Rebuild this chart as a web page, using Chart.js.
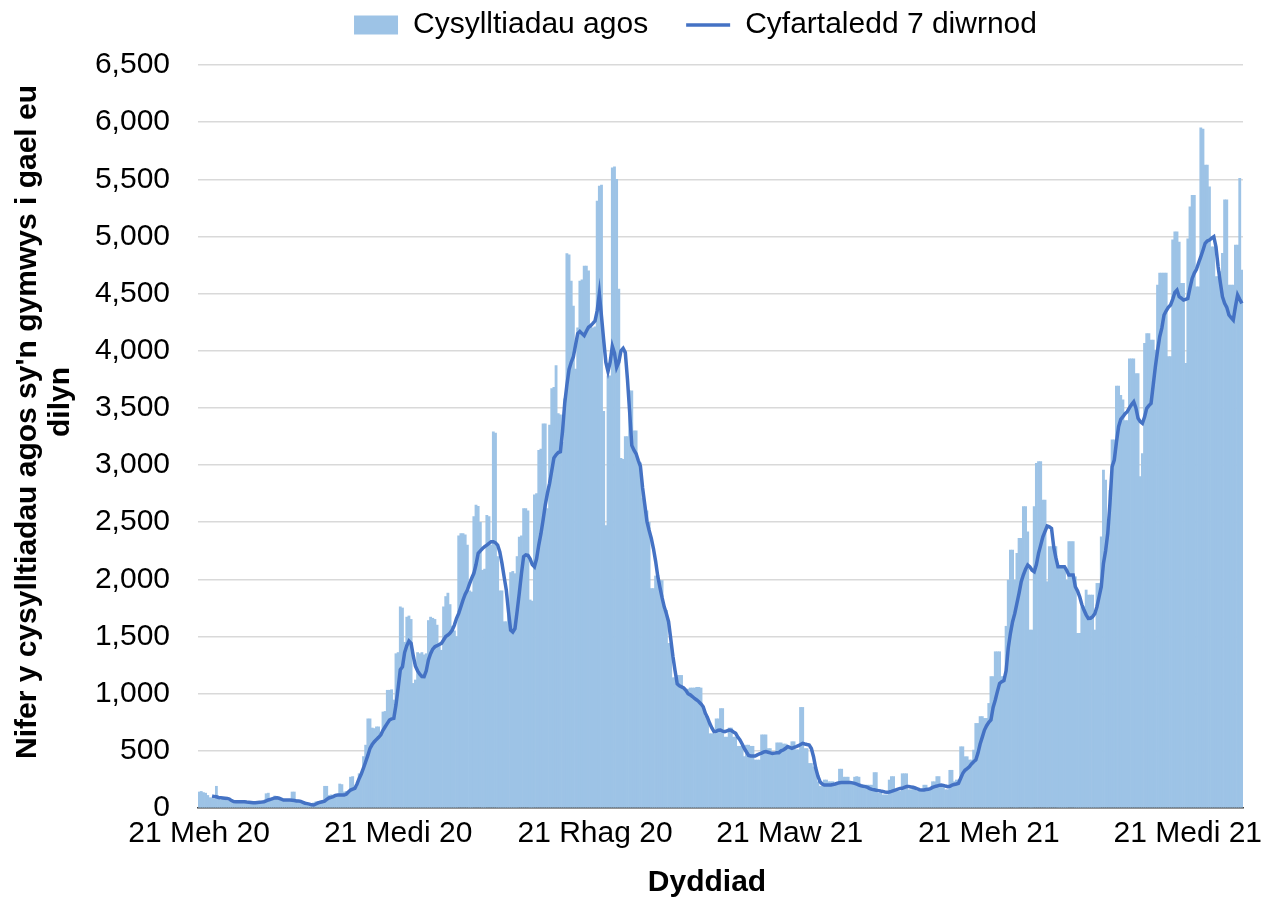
<!DOCTYPE html>
<html lang="cy">
<head>
<meta charset="utf-8">
<title>Cysylltiadau agos</title>
<script src="https://cdn.jsdelivr.net/npm/chart.js"></script>
<style>
    html, body { margin: 0; padding: 0; background: #fff; }
    #wrap { position: relative; width: 1272px; height: 903px; }
</style>
</head>
<body>
<div id="wrap"><canvas id="cysylltiadauChart"></canvas></div>
<script>
// Diwrnod cyntaf y gyfres: 21 Mehefin 2020
var startDate = Date.UTC(2020, 5, 21);

// Labeli'r echel x a'r diwrnodau lle maen nhw'n sefyll
var tickLabels = ['21 Meh 20', '21 Medi 20', '21 Rhag 20', '21 Maw 21', '21 Meh 21', '21 Medi 21'];
var tickDays = [0, 92, 183, 273, 365, 457];

// Cysylltiadau agos bob dydd (darllen oddi ar y llun)
var contacts = [
    140, 145, 135, 130, 110, 90, 85, 80, 190, 95,
    70, 75, 80, 65, 60, 55, 50, 45, 60, 55,
    45, 50, 55, 50, 40, 45, 50, 55, 45, 40,
    50, 125, 130, 60, 75, 105, 100, 80, 70, 60,
    65, 60, 75, 140, 140, 70, 65, 55, 50, 40,
    35, 40, 30, 45, 55, 55, 50, 60, 190, 190,
    110, 115, 110, 100, 105, 210, 205, 140, 145, 130,
    270, 275, 180, 185, 300, 300, 450, 550, 780, 780,
    700, 695, 710, 710, 640, 840, 845, 1030, 1030, 1035,
    945, 1350, 1360, 1760, 1750, 1450, 1670, 1680, 1650, 1090,
    1120, 1360, 1350, 1360, 1340, 1350, 1640, 1670, 1660, 1650,
    1600, 1430, 1380, 1760, 1850, 1880, 1780, 1590, 1550, 1500,
    2380, 2400, 2400, 2390, 2300, 1900, 1890, 2550, 2650, 2640,
    2500, 2080, 2090, 2560, 2550, 2300, 3290, 3280, 2200, 1900,
    1900, 1630, 1630, 1700, 2060, 2070, 2050, 2200, 2370, 2380,
    2620, 2620, 2600, 1820, 1810, 2740, 2750, 3130, 3140, 3360,
    3360, 2620, 3350, 3670, 3680, 3870, 3450, 3440, 3200, 3580,
    4850, 4840, 4610, 4390, 3840, 4200, 4610, 4620, 4740, 4740,
    4700, 4210, 4200, 4210, 5310, 5440, 5450, 3470, 2470, 3780,
    3780, 5600, 5610, 5500, 4540, 3060, 3050, 3250, 3250, 3650,
    3650, 3300, 3300, 3020, 3020, 2710, 2620, 2600, 2500, 1920,
    1920, 2030, 2030, 1990, 1990, 1730, 1730, 1440, 1440, 1140,
    1140, 1160, 1160, 1160, 1030, 1030, 1040, 1050, 1050, 1050,
    1056, 1056, 1050, 860, 800, 800, 650, 650, 650, 780,
    780, 870, 870, 620, 620, 700, 700, 620, 620, 540,
    540, 540, 450, 550, 550, 540, 540, 420, 420, 420,
    640, 640, 640, 520, 520, 480, 480, 570, 570, 570,
    560, 560, 540, 540, 580, 580, 510, 510, 880, 880,
    520, 520, 390, 390, 360, 360, 230, 190, 190, 245,
    245, 230, 230, 230, 200, 200, 340, 340, 270, 270,
    270, 230, 230, 270, 275, 270, 185, 185, 200, 200,
    200, 200, 310, 310, 130, 130, 115, 115, 115, 245,
    275, 275, 145, 145, 145, 300, 300, 300, 160, 160,
    170, 170, 145, 145, 145, 200, 200, 170, 170, 230,
    230, 275, 275, 200, 200, 160, 160, 330, 330, 230,
    245, 245, 536, 536, 449, 449, 420, 420, 507, 740,
    740, 800, 800, 784, 784, 915, 1150, 1150, 1367, 1367,
    1367, 1150, 1150, 1590, 1994, 2257, 2257, 1994, 2228, 2360,
    2360, 2636, 2636, 2417, 1557, 1557, 2636, 3015, 3030, 3030,
    2694, 2694, 1980, 2286, 2286, 2286, 2286, 2111, 2111, 2111,
    2111, 1994, 2330, 2330, 2330, 2023, 1528, 1528, 1761, 1761,
    1907, 1863, 1863, 1863, 1557, 1965, 1965, 2373, 2957, 2869,
    2370, 2780, 3220, 3220, 3690, 3690, 3610, 3570, 3390, 3390,
    3930, 3930, 3930, 3800, 3800, 2900, 3100, 4065, 4150, 4150,
    4094, 4094, 4007, 4575, 4680, 4680, 4680, 4680, 3950, 3950,
    4970, 5040, 5040, 4950, 4590, 4590, 3890, 4980, 5260, 5360,
    5360, 4560, 4560, 5950, 5940, 5625, 5625, 5435, 4910, 4910,
    4648, 4648, 4692, 4852, 5320, 5320, 4575, 4575, 4575, 4925,
    4925, 5508, 4706
];

// Cyfartaledd 7 diwrnod (dim gwerth am y 6 diwrnod cyntaf)
var average = [
    null, null, null, null, null, null, 105, 100, 98, 92,
    90, 88, 86, 84, 78, 65, 56, 55, 55, 55,
    55, 55, 52, 50, 48, 46, 46, 48, 50, 52,
    55, 62, 70, 76, 82, 88, 90, 85, 78, 70,
    70, 70, 70, 68, 66, 62, 61, 58, 50, 42,
    38, 34, 28, 26, 35, 45, 50, 55, 60, 75,
    88, 93, 100, 110, 113, 113, 113, 113, 120, 140,
    157, 165, 172, 210, 259, 300, 350, 405, 460, 522,
    555, 580, 600, 618, 640, 680, 711, 740, 770, 780,
    784, 900, 1050, 1210, 1236, 1360, 1420, 1460, 1440, 1330,
    1240, 1200, 1170, 1150, 1149, 1200, 1295, 1350, 1390, 1411,
    1420, 1430, 1440, 1470, 1500, 1513, 1530, 1557, 1600, 1660,
    1703, 1760, 1820, 1870, 1907, 1960, 2010, 2053, 2130, 2228,
    2250, 2270, 2286, 2300, 2315, 2330, 2330, 2320, 2300, 2240,
    2140, 2020, 1907, 1720, 1557, 1540, 1570, 1720, 1880, 2050,
    2199, 2214, 2210, 2180, 2130, 2110, 2180, 2300, 2400, 2520,
    2650, 2753, 2840, 2950, 3062, 3090, 3110, 3117, 3300, 3541,
    3700, 3837, 3900, 3948, 4050, 4150, 4169, 4150, 4132, 4170,
    4206, 4220, 4240, 4261, 4350, 4501, 4300, 4095, 3900, 3818,
    3900, 4040, 3980, 3855, 3900, 4000, 4021, 3984, 3750, 3468,
    3172, 3130, 3099, 3040, 2988, 2800, 2656, 2508, 2430, 2360,
    2270, 2160, 2028, 1930, 1840, 1760, 1700, 1630, 1480, 1327,
    1200, 1087, 1070, 1060, 1050, 1030, 1000, 990, 975, 958,
    945, 930, 910, 886, 828, 790, 741, 700, 668, 670,
    680, 682, 672, 668, 675, 682, 678, 665, 653, 620,
    595, 560, 522, 490, 460, 455, 455, 455, 465, 473,
    480, 490, 493, 488, 482, 478, 480, 484, 484, 500,
    507, 520, 537, 530, 522, 530, 537, 545, 555, 566,
    560, 555, 551, 520, 449, 350, 280, 230, 210, 201,
    201, 201, 201, 205, 210, 216, 220, 222, 222, 222,
    222, 222, 220, 215, 208, 201, 195, 190, 187, 180,
    170, 163, 160, 155, 152, 148, 145, 140, 137, 140,
    145, 152, 158, 165, 170, 172, 180, 187, 187, 184,
    181, 175, 168, 160, 157, 158, 162, 163, 170, 180,
    187, 192, 198, 201, 198, 192, 187, 190, 200, 205,
    210, 216, 260, 303, 330, 345, 361, 385, 405, 420,
    480, 560, 620, 682, 720, 750, 770, 880, 945, 1020,
    1090, 1105, 1115, 1200, 1400, 1528, 1630, 1700, 1790, 1880,
    1980, 2040, 2090, 2126, 2110, 2080, 2067, 2130, 2228, 2300,
    2373, 2420, 2467, 2460, 2446, 2286, 2190, 2111, 2111, 2111,
    2111, 2080, 2038, 2038, 2038, 1936, 1900, 1849, 1780, 1732,
    1690, 1659, 1660, 1674, 1700, 1761, 1850, 1936, 2140, 2250,
    2403, 2665, 2986, 3044, 3200, 3336, 3400, 3423, 3450, 3467,
    3500, 3530, 3554, 3500, 3409, 3380, 3365, 3420, 3496, 3520,
    3540, 3700, 3861, 4000, 4123, 4200, 4313, 4350, 4380, 4400,
    4450, 4510, 4531, 4473, 4460, 4444, 4450, 4458, 4550, 4633,
    4680, 4712, 4770, 4823, 4880, 4940, 4960, 4969, 4985, 4998,
    4910, 4735, 4600, 4473, 4415, 4380, 4313, 4290, 4269, 4386,
    4488, 4450, 4415
];

var yTitle = ["Nifer y cysylltiadau agos sy'n gymwys i gael eu", 'dilyn'];
var xTitle = 'Dyddiad';

document.addEventListener("DOMContentLoaded", function () {
    var fontFamily = '"Liberation Sans", Arial, sans-serif';
    var textColor = '#000000';

    // un categori i bob dydd
    var days = [];
    for (var i = 0; i < contacts.length; i++) {
        days.push(new Date(startDate + i * 86400000).toISOString().slice(0, 10));
    }

    // uchder y chwedl (er mwyn i'r grid ddechrau ar yr un lle) a'i safle
    var legendBox = {
        id: 'legendBox',
        beforeInit: function (chart) {
            var fit = chart.legend.fit;
            chart.legend.fit = function () {
                fit.call(this);
                this.height = 65;
            };
        },
        afterLayout: function (chart) {
            chart.legend.left = 148;
            chart.legend.top = -28;
        }
    };

    // teitlau'r echelinau
    var axisTitles = {
        id: 'axisTitles',
        afterDraw: function (chart) {
            var c = chart.ctx;
            c.save();
            c.font = 'bold 30px ' + fontFamily;
            c.fillStyle = textColor;
            c.textAlign = 'center';
            c.textBaseline = 'middle';
            c.fillText(xTitle, 707, 883);
            c.save();
            c.translate(28, 422);
            c.rotate(-Math.PI / 2);
            c.fillText(yTitle[0], 0, 0);
            c.restore();
            c.translate(61, 402);
            c.rotate(-Math.PI / 2);
            c.fillText(yTitle[1], 0, 0);
            c.restore();
        }
    };

    var ctx = document.getElementById('cysylltiadauChart').getContext('2d');
    var myChart = new Chart(ctx, {
        type: 'bar',
        data: {
            labels: days,
            datasets: [{
                type: 'bar',
                label: 'Cysylltiadau agos',
                data: contacts,
                backgroundColor: '#9dc3e6',
                borderWidth: 0,
                barPercentage: 1,
                categoryPercentage: 1,
                pointStyle: 'rect',
                order: 1
            }, {
                type: 'line',
                label: 'Cyfartaledd 7 diwrnod',
                data: average,
                borderColor: '#4472c4',
                backgroundColor: '#4472c4',
                borderWidth: 3.5,
                pointRadius: 0,
                pointHoverRadius: 0,
                pointBorderWidth: 3.5,
                pointBorderColor: '#4472c4',
                pointStyle: 'line',
                tension: 0,
                fill: false,
                order: 0
            }]
        },
        options: {
            responsive: true,
            maintainAspectRatio: false,
            animation: false,
            layout: {
                padding: { left: 0, right: 29, top: 0, bottom: 0 }
            },
            plugins: {
                legend: {
                    position: 'top',
                    labels: {
                        usePointStyle: true,
                        pointStyleWidth: 44,
                        boxHeight: 19,
                        padding: 38,
                        color: textColor,
                        font: { family: fontFamily, size: 30 },
                        sort: function (a, b) { return a.datasetIndex - b.datasetIndex; }
                    }
                },
                tooltip: { enabled: false }
            },
            scales: {
                x: {
                    type: 'category',
                    offset: true,
                    z: 1,
                    grid: {
                        offset: true,
                        drawOnChartArea: false,
                        drawTicks: true,
                        tickLength: 8,
                        tickWidth: 1.5,
                        tickColor: function (c) {
                            return tickDays.indexOf(c.index) >= 0 ? '#404040' : 'rgba(0,0,0,0)';
                        }
                    },
                    border: { display: true, color: '#404040', width: 1.5 },
                    ticks: {
                        autoSkip: false,
                        maxRotation: 0,
                        minRotation: 0,
                        padding: 0,
                        color: textColor,
                        font: { family: fontFamily, size: 30 },
                        callback: function (value, index) {
                            var k = tickDays.indexOf(index);
                            return k >= 0 ? tickLabels[k] : null;
                        }
                    },
                    afterFit: function (scale) { scale.height = 95; }
                },
                y: {
                    min: 0,
                    max: 6500,
                    grid: {
                        color: '#d9d9d9',
                        lineWidth: 1.5,
                        drawTicks: false
                    },
                    border: { display: false },
                    ticks: {
                        stepSize: 500,
                        padding: 28,
                        color: textColor,
                        font: { family: fontFamily, size: 30 },
                        callback: function (value) {
                            return value.toLocaleString('en-US');
                        }
                    },
                    afterFit: function (scale) { scale.width = 198; }
                }
            }
        },
        plugins: [legendBox, axisTitles]
    });

    console.log("Graff wedi'i greu:", myChart.chartArea);
});
</script>
</body>
</html>
